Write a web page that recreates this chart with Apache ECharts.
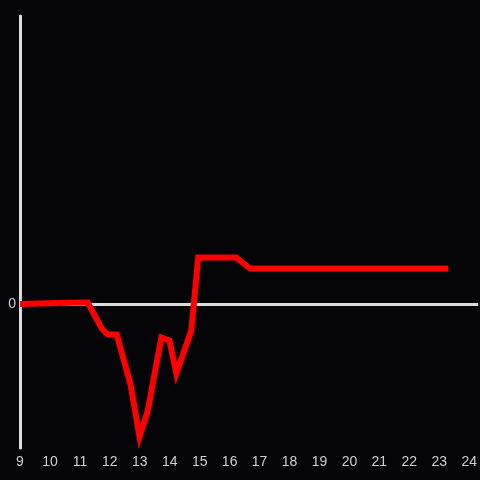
<!DOCTYPE html>
<html>
<head>
<meta charset="utf-8">
<script src="https://cdn.jsdelivr.net/npm/echarts@6/dist/echarts.min.js"></script>
<style>
  html, body { margin: 0; padding: 0; background: #050407; }
  #chart { width: 480px; height: 480px; }
</style>
</head>
<body>
<div id="chart"></div>
<script>
// hour of day / relative value
const hours = [9, 10.33, 11.26, 11.73, 11.93, 12.23, 12.69, 12.99, 13.26, 13.72, 13.99, 14.22, 14.72, 14.95, 16.22, 16.68, 23.3]
const values = [0, 0.1, 0.15, -2.45, -3.05, -3.05, -8.05, -13.25, -10.75, -3.35, -3.65, -6.95, -2.65, 4.65, 4.65, 3.55, 3.55]

const chart = echarts.init(document.getElementById('chart'))

const axisColor = '#dcdcdc'
const labelColor = '#cfcfcf'

chart.setOption({
  backgroundColor: '#050407',
  animation: false,
  grid: { left: 20, right: 0, top: 16, bottom: 32 },
  xAxis: {
    type: 'value',
    min: 9,
    max: 24.3,
    interval: 1,
    axisLine: { show: false },
    axisTick: { show: false },
    splitLine: { show: false },
    axisLabel: {
      color: labelColor,
      fontSize: 14,
      fontFamily: 'Liberation Sans, sans-serif',
      margin: 7,
      showMaxLabel: false,
      formatter: v => Number.isInteger(v) ? String(v) : ''
    }
  },
  yAxis: {
    type: 'value',
    min: -14.4,
    max: 28.8,
    interval: 14.4,
    axisLine: { show: true, onZero: false, lineStyle: { color: axisColor, width: 3 } },
    axisTick: { show: false },
    splitLine: { show: false },
    axisLabel: {
      color: labelColor,
      fontSize: 14,
      fontFamily: 'Liberation Sans, sans-serif',
      margin: 4,
      formatter: v => v === 0 ? '0' : ''
    }
  },
  series: [{
    type: 'line',
    data: hours.map((h, i) => [h, values[i]]),
    showSymbol: false,
    lineStyle: { color: '#ff0000', width: 6, cap: 'butt', join: 'miter' },
    z: 3,
    markLine: {
      silent: true,
      symbol: 'none',
      label: { show: false },
      lineStyle: { color: axisColor, width: 3, type: 'solid' },
      z: 1,
      data: [{ yAxis: 0 }]
    }
  }]
})
</script>
</body>
</html>
